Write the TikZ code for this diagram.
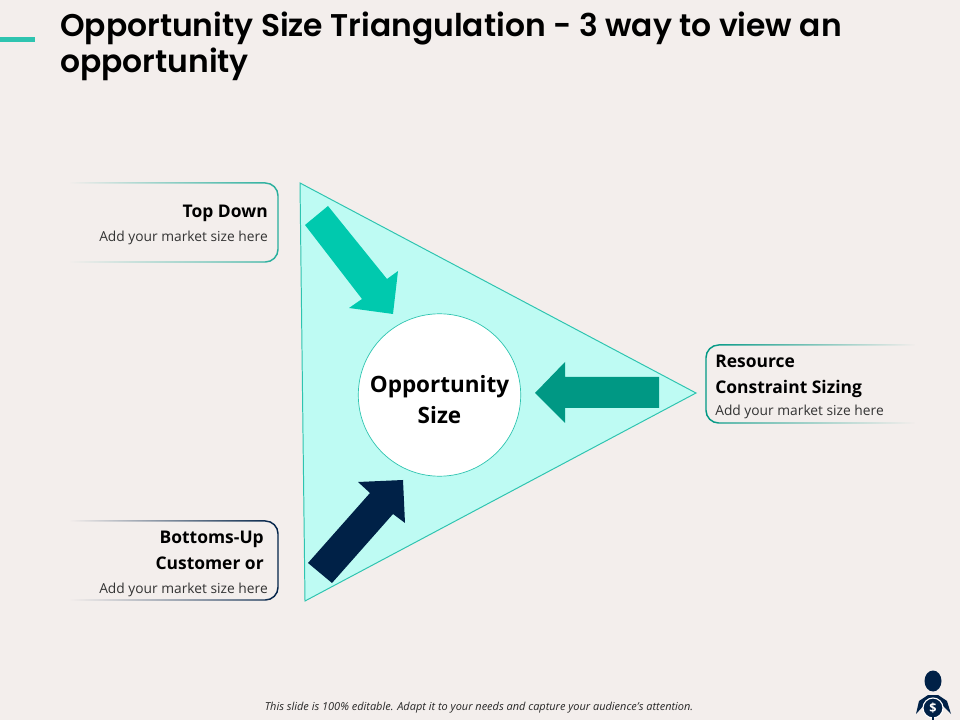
\documentclass[tikz,border=0pt]{standalone}
\usepackage{fontspec}
\setmainfont{Open Sans}
\newfontfamily\titlefont{Poppins SemiBold}
\usetikzlibrary{fadings}
\definecolor{pagebg}{HTML}{F3EEEC}
\definecolor{triteal}{HTML}{BEFBF3}
\definecolor{triline}{HTML}{2EC4B0}
\definecolor{boxteal}{HTML}{25AE9C}
\definecolor{arrowlight}{HTML}{00C9AE}
\definecolor{arrowdark}{HTML}{009884}
\definecolor{navy}{HTML}{002147}
\tikzfading[name=fadeleft,left color=transparent!100,middle color=transparent!15,right color=transparent!0]
\tikzfading[name=faderight,left color=transparent!0,middle color=transparent!15,right color=transparent!100]
\tikzset{
  headtext/.style={font=\fontsize{12.4}{18.5}\selectfont\bfseries, text=black, inner sep=0pt},
  subtext/.style={font=\fontsize{9.8}{12}\selectfont, text=black!80, inner sep=0pt},
  boxline/.style={line width=1.05pt, rounded corners=9pt}
}
\begin{document}
\begin{tikzpicture}[x=0.025cm,y=-0.025cm]
            \useasboundingbox (0,0) rectangle (960,720);
            \fill [pagebg] (0,0) rectangle (960,720);
            % title
            \fill [triline] (0,37.5) rectangle (35,42.5);
            \node (title) [anchor=north west,align=left,inner sep=0pt,font=\fontsize{22.3}{25.5}\selectfont\titlefont] at (60,12)
                {Opportunity Size Triangulation - 3 way to view an\\opportunity};
            % triangle and arrows
            \def\mytriangle{(300,183) -- (696,393) -- (305,601) -- cycle}
            \draw [triline,fill=triteal,line width=0.7pt]\mytriangle;
            \fill [arrowlight] (305,225) -- (328,206) -- (387,279) -- (398,271) -- (393,314) -- (349,308) -- (362,299) -- cycle;
            \fill [arrowdark] (659,377) -- (565,377) -- (565,362) -- (535,393) -- (565,423) -- (565,408) -- (659,408) -- cycle;
            \fill [navy] (308,563) -- (370,493) -- (358,482) -- (403,480) -- (405,523) -- (393,514) -- (332,583) -- cycle;
            \node (size) [circle,draw=triline,fill=white,line width=0.5pt,minimum size=115.5pt,inner sep=0pt] at (439.5,395) {};
            \node (sizetext) [inner sep=0pt,align=center,font=\fontsize{16}{22}\selectfont\bfseries] at (439.5,399.5)
                {Opportunity\\Size};
            % label boxes
            \draw [boxline,boxteal,path fading=fadeleft] (70,183) -- (278,183) -- (278,262) -- (70,262);
            \node (topdown) [headtext,anchor=base east] at (268,218) {Top Down};
            \node (topsub) [subtext,anchor=base east] at (268,242) {Add your market size here};
            \draw [boxline,navy,path fading=fadeleft] (70,521) -- (278,521) -- (278,600) -- (70,600);
            \node (bottomsup) [headtext,anchor=east,align=right] at (264,550.5) {Bottoms-Up\\Customer or};
            \node (bottomsub) [subtext,anchor=base east] at (268,593) {Add your market size here};
            \draw [boxline,arrowdark,path fading=faderight] (915,345) -- (706,345) -- (706,423) -- (915,423);
            \node (resource) [headtext,anchor=west,align=left] at (715,376.5) {Resource\\Constraint Sizing};
            \node (resourcesub) [subtext,anchor=base west] at (715,415.5) {Add your market size here};
            % footer and icon
            \node (note) [inner sep=0pt,anchor=base,font=\fontsize{7.8}{9}\selectfont\itshape,text=black!85] at (479,710.5)
                {This slide is 100\% editable. Adapt it to your needs and capture your audience's attention.};
            \fill [navy] (933,681) ellipse (8.5 and 10.5);
            \fill [navy] (916,714) -- (919,701) -- (928,695) -- (938,695) -- (947,701) -- (951,714) -- (940,703) -- (926,703) -- cycle;
            \fill [navy] (933,708) circle (10);
            \draw [white,line width=0.8pt] (933,708) circle (10);
            \draw [navy,line width=1.2pt] (933,716) -- (933,720);
            \node (dollar) [inner sep=0pt,text=white,font=\fontsize{9}{9}\selectfont\bfseries] at (933,708) {\$};
        \end{tikzpicture}
\end{document}
